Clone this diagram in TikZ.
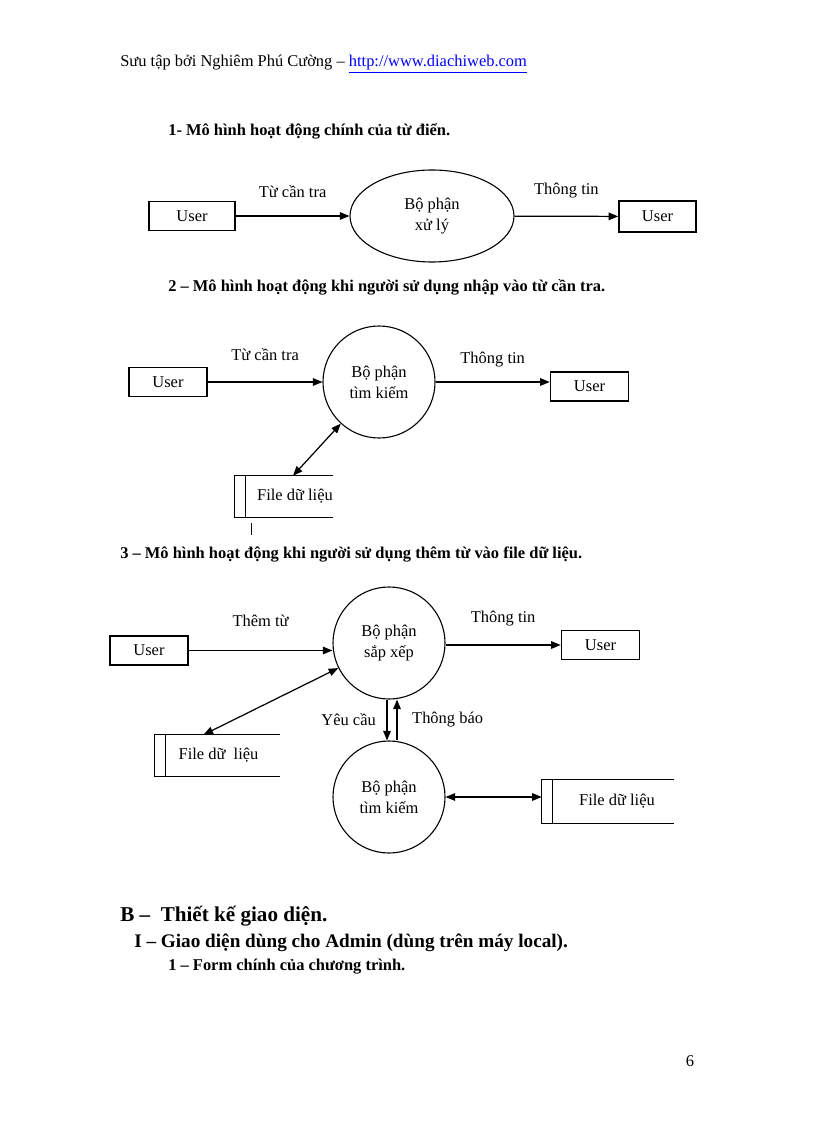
\documentclass[tikz,border=0pt]{standalone}
\usepackage{fontspec}
\setmainfont{Liberation Serif}
\usetikzlibrary{shapes.geometric, arrows.meta}
\newdimen\px \px=0.7292pt

\tikzset{
  userbox/.style={draw, line width=1.1pt, minimum width=78*\px, minimum height=29*\px, inner sep=0pt},
  process/.style={draw, thick, circle, minimum size=112*\px, inner sep=0pt, align=center},
  store/.style={minimum height=41*\px, inner sep=0pt},
  flow/.style={line width=0.9pt, -{Triangle[length=7pt, width=5.5pt]}},
  biflow/.style={line width=0.9pt, {Triangle[length=7pt, width=5.5pt]}-{Triangle[length=7pt, width=5.5pt]}},
  heading/.style={anchor=west, inner sep=0pt, font=\fontsize{12pt}{14pt}\selectfont\bfseries},
}

\begin{document}
\begin{tikzpicture}[x=\px, y=-\px, font=\fontsize{12pt}{15.5pt}\selectfont]
    \useasboundingbox[fill=white] (0, 0) rectangle (816, 1123);
    \node[anchor=west, inner sep=0pt] (hdr) at (120, 64) {Sưu tập bởi Nghiêm Phú Cường – \textcolor{blue}{\underline{http://www.diachiweb.com}}};

    % 1
    \node[heading] (h1) at (168, 131) {1- Mô hình hoạt động chính của từ điển.};
    \node[userbox, minimum width=86*\px] (u1) at (192, 216) {User};
    \node[draw, thick, ellipse, minimum width=164*\px, minimum height=92*\px, align=center] (e1) at (432, 216) {Bộ phận\\xử lý};
    \node[userbox, minimum width=77*\px, minimum height=31*\px] (u1r) at (657.5, 216.5) {User};
    \draw[flow] (u1) -- (e1) node[midway, above=13*\px] {Từ cần tra};
    \draw[flow] (e1) -- (u1r) node[midway, above=13*\px] {Thông tin};

    % 2
    \node[heading] (h2) at (168, 287) {2 – Mô hình hoạt động khi người sử dụng nhập vào từ cần tra.};
    \node[userbox] (u2) at (168, 382) {User};
    \node[process] (s2) at (379, 382) {Bộ phận\\tìm kiếm};
    \node[userbox] (u2r) at (589.5, 386.5) {User};
    \node[store, minimum width=98*\px] (fs2) at (284, 496.5) {\hspace{22\px}File dữ liệu};
    \draw[flow] (u2) -- (s2) node[midway, above=16*\px] {Từ cần tra};
    \draw[flow] (s2.east) -- (s2.east -| u2r.west) node[midway, above=10*\px] {Thông tin};
    \draw[biflow] (s2) -- ([xshift=9*\px]fs2.north);
    \draw (251, 523) -- (251, 535);

    % 3
    \node[heading] (h3) at (120, 555) {3 – Mô hình hoạt động khi người sử dụng thêm từ vào file dữ liệu.};
    \node[userbox] (u3) at (149, 650.5) {User};
    \node[process] (s3a) at (389, 643) {Bộ phận\\sắp xếp};
    \node[userbox] (u3r) at (600.5, 645) {User};
    \node[store, minimum width=125*\px] (fs3l) at (217.5, 755.5) {\hspace{2\px}File dữ\ \ liệu};
    \node[process] (s3b) at (389, 797) {Bộ phận\\tìm kiếm};
    \node[store, minimum width=132*\px, minimum height=43*\px] (fs3r) at (608, 801.5) {\hspace{18\px}File dữ liệu};
    \draw[flow] (u3) -- (u3 -| s3a.west) node[midway, above=19*\px] {Thêm từ};
    \draw[flow] (s3a.east |- u3r) -- (u3r) node[midway, above=14*\px] {Thông tin};
    \draw[biflow] (s3a) -- ([xshift=-14*\px]fs3l.north);
    \draw[flow] ([xshift=-2*\px]s3a.south) -- ([xshift=-2*\px]s3b.north) node[midway, left=6*\px] {Yêu cầu};
    \draw[flow] ([xshift=8*\px]s3b.north) -- ([xshift=8*\px]s3a.south) node[midway, right=10*\px] {Thông báo};
    \draw[biflow] (s3b.east) -- (s3b.east -| fs3r.west);

    \foreach \s in {fs2, fs3l, fs3r} {
        \draw[thick] (\s.north east) -- (\s.north west) -- (\s.south west) -- (\s.south east);
        \draw[thick] ([xshift=11*\px]\s.north west) -- ([xshift=11*\px]\s.south west);
    }

    % B
    \node[anchor=west, inner sep=0pt, font=\fontsize{15.4pt}{18pt}\selectfont\bfseries] (hb) at (120, 916) {B –\ \ Thiết kế giao diện.};
    \node[anchor=west, inner sep=0pt, font=\fontsize{14pt}{16pt}\selectfont\bfseries] (hb1) at (134, 943) {I – Giao diện dùng cho Admin (dùng trên máy local).};
    \node[heading] (hb2) at (168, 967) {1 – Form chính của chương trình.};
    \node (pg) at (690, 1061) {6};
\end{tikzpicture}
\end{document}
